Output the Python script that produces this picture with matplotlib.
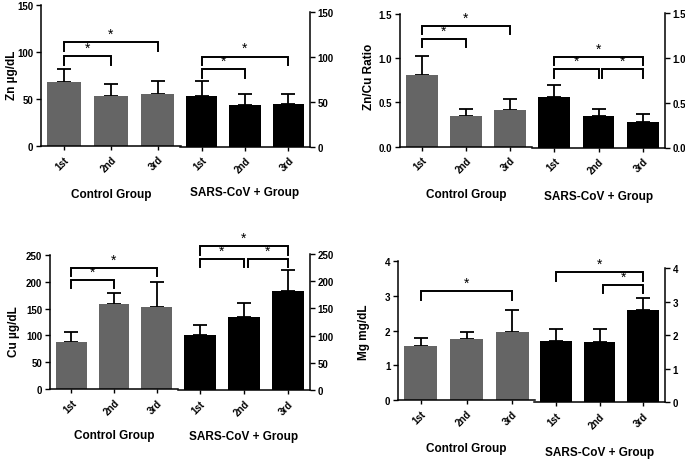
import matplotlib
matplotlib.use("Agg")
import matplotlib.pyplot as plt
from matplotlib.ticker import FormatStrFormatter

plt.rcParams['font.family'] = ['Liberation Sans', 'DejaVu Sans']
plt.rcParams['font.weight'] = 'bold'

visits = ["1st", "2nd", "3rd"]
group_names = ["Control Group", "SARS-CoV + Group"]

# means and upper error (SD)
zn_control = [68.2, 53.3, 55.1]
zn_control_sd = [13.2, 12.5, 13.5]
zn_sars = [55.9, 46.9, 47.2]
zn_sars_sd = [16.8, 11.6, 12.0]

ratio_control = [0.81, 0.34, 0.41]
ratio_control_sd = [0.22, 0.08, 0.13]
ratio_sars = [0.56, 0.35, 0.28]
ratio_sars_sd = [0.14, 0.08, 0.09]

cu_control = [88.3, 158.0, 153.6]
cu_control_sd = [18.7, 21.0, 45.4]
cu_sars = [101.1, 133.6, 182.0]
cu_sars_sd = [19.0, 26.3, 38.6]

mg_control = [1.57, 1.77, 1.95]
mg_control_sd = [0.21, 0.18, 0.65]
mg_sars = [1.84, 1.81, 2.76]
mg_sars_sd = [0.33, 0.38, 0.36]

# significance brackets: (from bar, to bar, height)
zn_control_sig = [(0, 2, 110.2), (0, 1, 95.3)]
zn_sars_sig = [(0, 2, 100.5), (0, 1, 86.2)]
ratio_control_sig = [(0, 2, 1.361), (0, 1, 1.218)]
ratio_sars_sig = [(0, 2, 1.011), (0, 1, 0.872), (1, 2, 0.872)]
cu_control_sig = [(0, 2, 225.7), (0, 1, 203.4)]
cu_sars_sig = [(0, 2, 264.1), (0, 1, 240.8), (1, 2, 240.8)]
mg_control_sig = [(0, 2, 3.135)]
mg_sars_sig = [(0, 2, 3.871), (1, 2, 3.494)]

W, H = 685, 460
GRAY = '#656565'


def px_axes(fig, x0, x1, ytop, ybot):
    return fig.add_axes([x0 / W, 1 - ybot / H, (x1 - x0) / W, (ybot - ytop) / H])


def draw_group(ax, means, sds, color, yticks, fmt, side, sig):
    xs = range(len(means))
    ax.bar(xs, means, width=0.72, color=color, zorder=2)
    ax.errorbar(xs, means, yerr=[[0] * len(sds), sds], fmt='none',
                ecolor='black', elinewidth=1.3, capsize=4.8, capthick=1.3, zorder=1)
    ax.set_xlim(-0.5, 2.5)
    ax.set_ylim(yticks[0], yticks[-1])
    ax.set_yticks(yticks)
    ax.yaxis.set_major_formatter(FormatStrFormatter(fmt))
    ax.set_xticks(list(xs))
    ax.set_xticklabels(visits, rotation=45, ha='right', rotation_mode='anchor')
    ax.spines['top'].set_visible(False)
    if side == 'left':
        ax.spines['right'].set_visible(False)
    else:
        ax.spines['left'].set_visible(False)
        ax.yaxis.tick_right()
    for s in ax.spines.values():
        s.set_linewidth(1.1)
    ax.tick_params(direction='out', length=3.5, width=1.0, labelsize=7, pad=2)
    ax.tick_params(axis='x', length=3, pad=3)
    ax.set_facecolor('none')
    span = yticks[-1] - yticks[0]
    leg = 0.062 * span
    for i, j, y in sig:
        xa = i + (0.08 if i == 1 else 0)
        ax.plot([xa, xa, j, j], [y - leg, y, y, y - leg], color='black',
                lw=1.4, clip_on=False, solid_joinstyle='miter')
        ax.annotate('*', xy=((xa + j) / 2, y), xytext=(0, 1), textcoords='offset points',
                    ha='center', va='bottom', fontsize=10, fontweight='normal',
                    annotation_clip=False)


fig = plt.figure(figsize=(W / 100, H / 100), dpi=100)

panels = [
    ("Zn µg/dL", (12, 75),
     (40.7, 181, 6, 146.7), (180, 310, 13.3, 147.5), (195, 193),
     zn_control, zn_control_sd, zn_sars, zn_sars_sd, [0, 50, 100, 150], '%d',
     zn_control_sig, zn_sars_sig),
    ("Zn/Cu Ratio", (369, 77),
     (400, 532, 15, 147.5), (532, 665, 14, 148.5), (195, 197),
     ratio_control, ratio_control_sd, ratio_sars, ratio_sars_sd, [0, 0.5, 1.0, 1.5], '%.1f',
     ratio_control_sig, ratio_sars_sig),
    ("Cu µg/dL", (14, 332),
     (50, 178, 256, 390), (178, 310, 255, 391), (436, 437),
     cu_control, cu_control_sd, cu_sars, cu_sars_sd, [0, 50, 100, 150, 200, 250], '%d',
     cu_control_sig, cu_sars_sig),
    ("Mg mg/dL", (364, 332),
     (398, 535, 262.3, 401), (534, 665, 269, 403.3), (449, 452.7),
     mg_control, mg_control_sd, mg_sars, mg_sars_sd, [0, 1, 2, 3, 4], '%d',
     mg_control_sig, mg_sars_sig),
]

for (ylabel, lab_xy, rect_l, rect_r, grp_y, c_m, c_sd, s_m, s_sd,
     yticks, fmt, c_sig, s_sig) in panels:
    ax_l = px_axes(fig, *rect_l)
    ax_r = px_axes(fig, *rect_r)
    draw_group(ax_l, c_m, c_sd, GRAY, yticks, fmt, 'left', c_sig)
    draw_group(ax_r, s_m, s_sd, 'black', yticks, fmt, 'right', s_sig)
    fig.text(lab_xy[0] / W, 1 - lab_xy[1] / H, ylabel, rotation=90,
             ha='center', va='center', fontsize=8.5)
    for rect, name, gy in zip((rect_l, rect_r), group_names, grp_y):
        fig.text((rect[0] + rect[1]) / 2 / W, 1 - gy / H, name,
                 ha='center', va='center', fontsize=8.5)

fig.savefig("out.png", dpi=100)
